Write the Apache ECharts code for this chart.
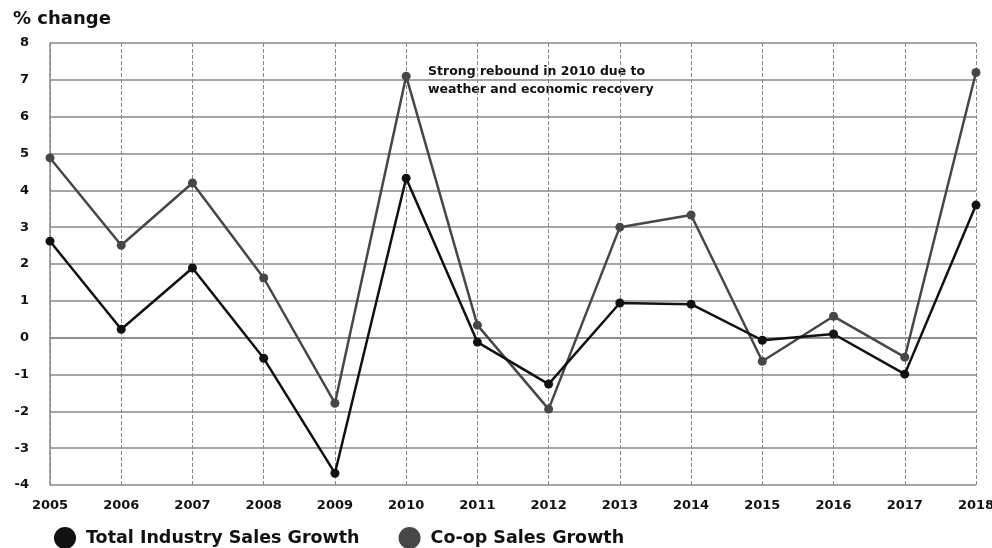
<!DOCTYPE html>
<html><head><meta charset="utf-8">
<script src="https://cdn.jsdelivr.net/npm/echarts@6/dist/echarts.min.js"></script>
<style>html,body{margin:0;padding:0;background:#fff}#c{width:992px;height:548px}</style>
</head><body><div id="c"></div>
<script>
const years = ['2005','2006','2007','2008','2009','2010','2011','2012','2013','2014','2015','2016','2017','2018'];
const totalIndustry = [2.62,0.23,1.89,-0.56,-3.68,4.33,-0.12,-1.26,0.94,0.91,-0.07,0.10,-0.99,3.60];
const coopSales = [4.88,2.51,4.20,1.62,-1.78,7.10,0.34,-1.94,3.00,3.33,-0.64,0.58,-0.53,7.20];
const yTitle = '% change';
const note = 'Strong rebound in 2010 due to\nweather and economic recovery';
const F = '"DejaVu Sans", sans-serif';
const chart = echarts.init(document.getElementById('c'));
chart.setOption({
  animation:false,
  backgroundColor:'#fff',
  textStyle:{fontFamily:F},
  grid:{left:50,right:16,top:43,bottom:63,outerBoundsMode:'none',containLabel:false},
  title:{text:yTitle,left:8,top:5,textStyle:{fontFamily:F,fontSize:18,fontWeight:'bold',color:'#111'}},
  legend:{left:49,bottom:-6,icon:'circle',itemWidth:22,itemHeight:22,itemGap:39,
    textStyle:{fontFamily:F,fontSize:17.5,fontWeight:'bold',color:'#111',padding:[0,0,0,5]},
    data:['Total Industry Sales Growth','Co-op Sales Growth']},
  xAxis:{type:'category',data:years,boundaryGap:false,
    axisLine:{lineStyle:{color:'#888',width:1.5}},axisTick:{show:false},
    axisLabel:{fontFamily:F,fontSize:13,fontWeight:'bold',color:'#111',margin:14,interval:0},
    splitLine:{show:true,lineStyle:{color:'#888',type:'dashed',width:1}}},
  yAxis:{type:'value',min:-4,max:8,interval:1,
    axisLine:{show:true,lineStyle:{color:'#888',width:1.5}},axisTick:{show:false},
    axisLabel:{fontFamily:F,fontSize:13,fontWeight:'bold',color:'#111',margin:21},
    splitLine:{lineStyle:{color:'#888',width:1.5}}},
  graphic:[{type:'text',left:428,top:63,style:{text:note,fontFamily:F,fontSize:12.5,fontWeight:'bold',fill:'#111',lineHeight:18}}],
  series:[
    {name:'Total Industry Sales Growth',type:'line',data:totalIndustry,symbol:'circle',symbolSize:9,
     itemStyle:{color:'#111'},lineStyle:{color:'#111',width:2.5},z:3},
    {name:'Co-op Sales Growth',type:'line',data:coopSales,symbol:'circle',symbolSize:9,
     itemStyle:{color:'#474747'},lineStyle:{color:'#474747',width:2.5},z:2}
  ]
});
</script></body></html>
